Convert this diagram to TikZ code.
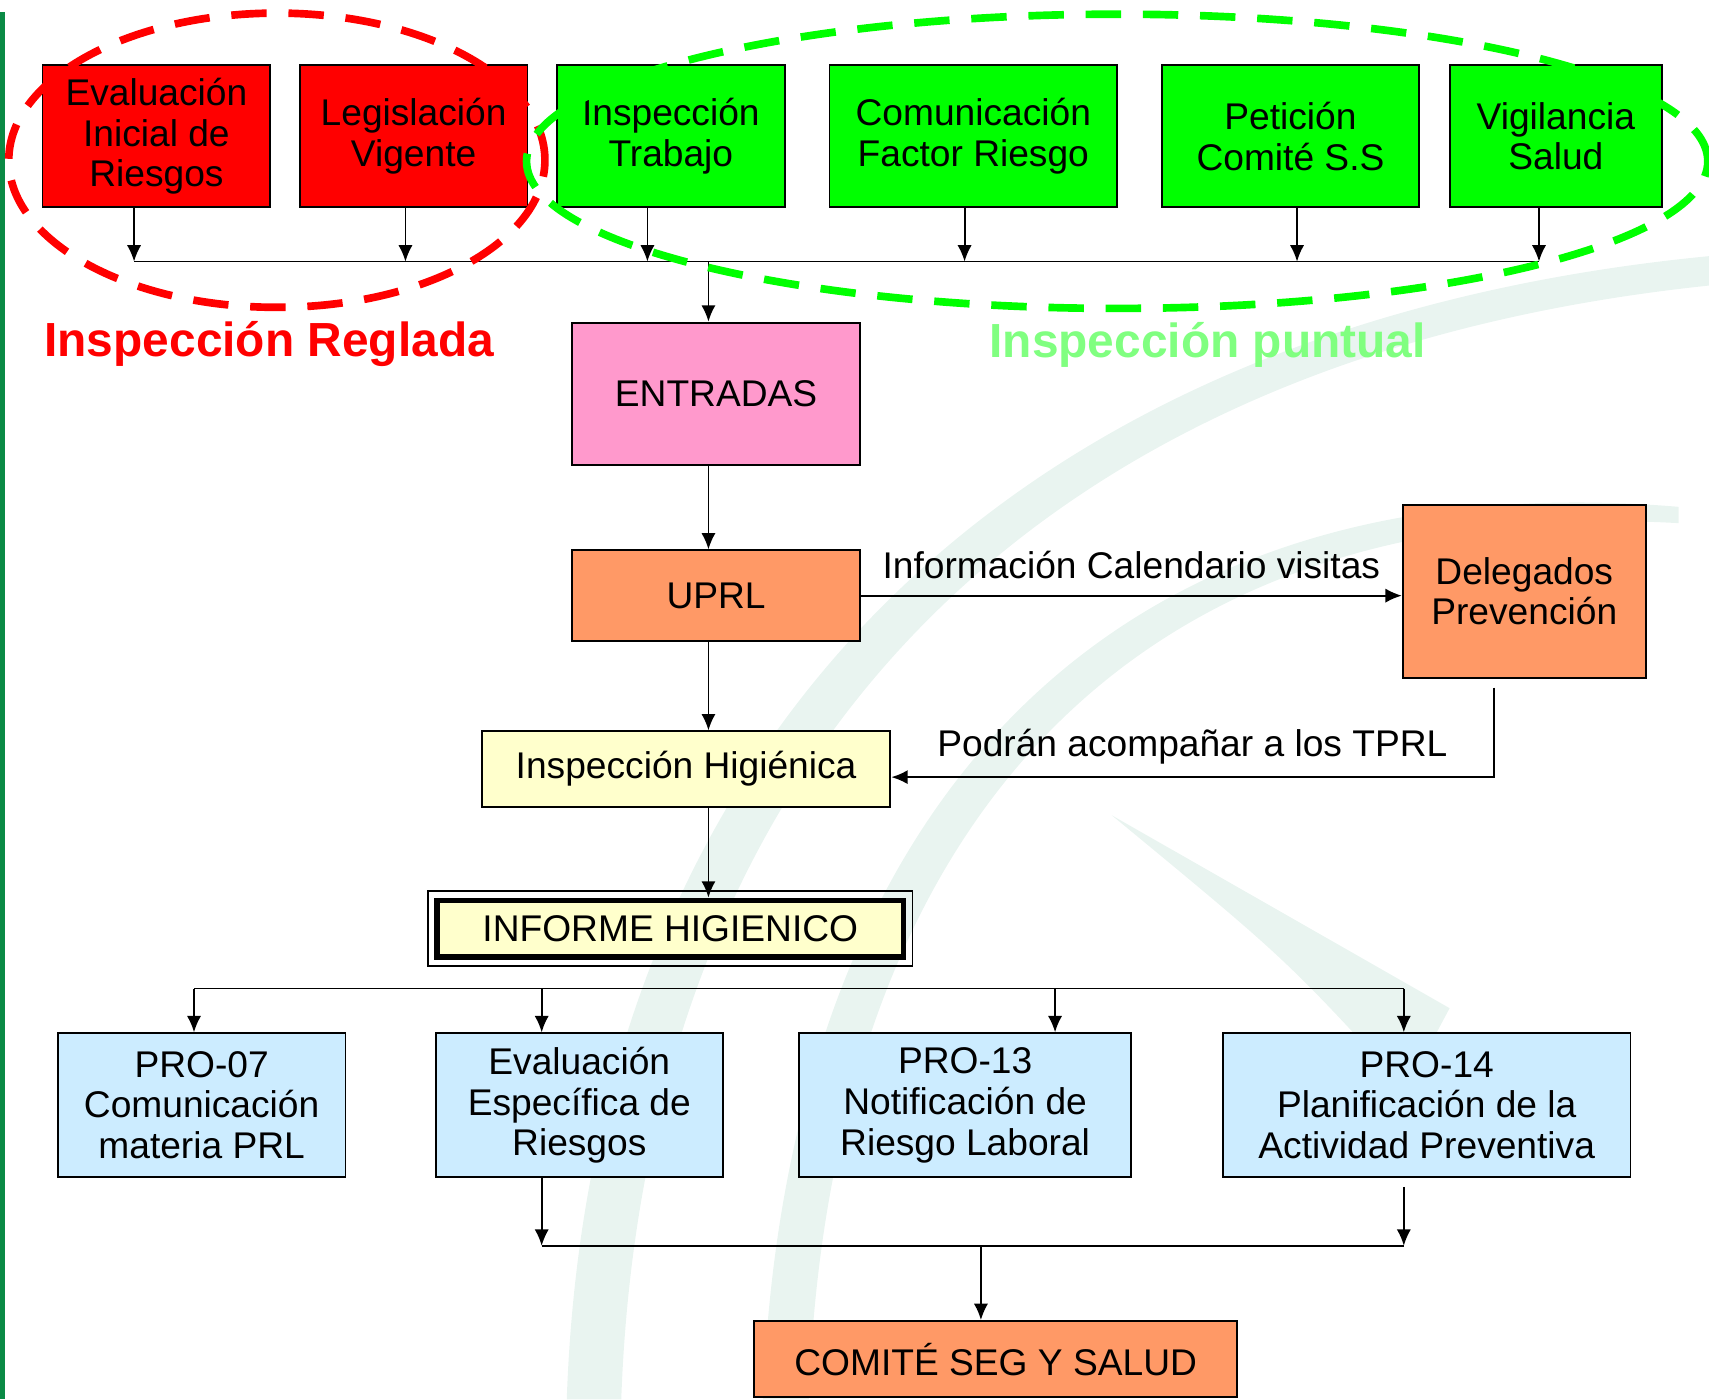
\documentclass[tikz,border=0pt]{standalone}
\usepackage{fontspec}
\setmainfont{Liberation Sans}
\usepackage{tikz}
\usetikzlibrary{positioning,calc,arrows.meta}

\definecolor{rojo}{HTML}{FF0000}
\definecolor{verde}{HTML}{00FF00}
\definecolor{rosa}{HTML}{FF99CC}
\definecolor{naranja}{HTML}{FF9966}
\definecolor{crema}{HTML}{FFFFCC}
\definecolor{celeste}{HTML}{CCECFF}
\definecolor{verdeclaro}{HTML}{80FF80}
\definecolor{barra}{HTML}{0A8A45}
\definecolor{marca}{RGB}{233,244,240}

\tikzset{
  caja/.style={draw=black, line width=1pt, inner sep=0pt, align=center,
    font=\fontsize{19.4}{21.3}\selectfont},
  etiqueta/.style={inner sep=0pt, font=\fontsize{19.4}{21.3}\selectfont},
  titulo/.style={inner sep=0pt, font=\fontsize{25}{28}\selectfont\bfseries},
  flecha/.style={line width=0.95pt, -{Latex[length=0.3cm,width=0.26cm]}},
  linea/.style={line width=0.95pt},
  ovalo/.style={line width=4pt, dash pattern=on 0.65cm off 0.4cm},
}

\begin{document}
\begin{tikzpicture}[x=0.02cm, y=-0.02cm]
    \useasboundingbox (0,0) rectangle (1568,1284);

    % fondo
    \fill[barra] (0,11) rectangle (5,1284);
    \fill[marca] (520,1284) .. controls (540,700) and (900,300) .. (1568,235)
        -- (1568,262) .. controls (920,330) and (590,720) .. (570,1284) -- cycle;
    \fill[marca] (700,1284) .. controls (720,760) and (1000,420) .. (1540,465)
        -- (1540,480) .. controls (1020,450) and (760,780) .. (742,1284) -- cycle;
    \fill[marca] (1020,748) -- (1330,925) -- (1290,1000) .. controls (1180,880) .. cycle;

    % entradas de arriba
    \node[caja, fill=rojo, minimum width=4.18cm, minimum height=2.6cm] (ev) at (143.5,125) {Evaluación\\Inicial de\\Riesgos};
    \node[caja, fill=rojo, minimum width=4.18cm, minimum height=2.6cm] (leg) at (379.5,125) {Legislación\\Vigente};
    \node[caja, fill=verde, minimum width=4.18cm, minimum height=2.6cm] (insp) at (615.5,125) {Inspección\\Trabajo};
    \node[caja, fill=verde, minimum width=5.28cm, minimum height=2.6cm] (com) at (893,125) {Comunicación\\Factor Riesgo};
    \node[caja, fill=verde, minimum width=4.72cm, minimum height=2.6cm] (pet) at (1184,125) {Petición\\Comité S.S};
    \node[caja, fill=verde, minimum width=3.9cm, minimum height=2.6cm] (vig) at (1427.5,125) {Vigilancia\\Salud};

    \node[titulo, text=rojo] (reglada) at (247,316) {Inspección Reglada};
    \node[titulo, text=verdeclaro] (puntual) at (1108,316) {Inspección puntual};

    % flujo central
    \node[caja, fill=rosa, minimum width=5.28cm, minimum height=2.62cm] (entradas) at (657,361.5) {ENTRADAS};
    \node[caja, fill=naranja, minimum width=5.28cm, minimum height=1.66cm] (uprl) at (657,546.5) {UPRL};
    \node[caja, fill=naranja, minimum width=4.46cm, minimum height=3.18cm] (deleg) at (1398.5,542.5) {Delegados\\Prevención};
    \node[caja, fill=crema, minimum width=7.5cm, minimum height=1.38cm] (higi) at (629.5,705.5) {Inspección Higiénica};
    \node[caja, fill=crema, line width=2.8pt, minimum width=8.56cm, minimum height=1.04cm] (informe) at (615,852) {INFORME HIGIENICO};
    \draw[line width=0.8pt] ([shift={(-6,6)}]informe.south west) rectangle ([shift={(6,-6)}]informe.north east);

    \node[etiqueta] (lblinfo) at (1038,518) {Información Calendario visitas};
    \node[etiqueta] (lblpodran) at (1094,685) {Podrán acompañar a los TPRL};

    % salidas
    \node[caja, fill=celeste, minimum width=5.28cm, minimum height=2.64cm] (pro07) at (185,1014) {PRO-07\\Comunicación\\materia PRL};
    \node[caja, fill=celeste, minimum width=5.26cm, minimum height=2.64cm] (espec) at (531.5,1014) {Evaluación\\Específica de\\Riesgos};
    \node[caja, fill=celeste, minimum width=6.1cm, minimum height=2.64cm] (pro13) at (885.5,1014) {PRO-13\\Notificación de\\Riesgo Laboral};
    \node[caja, fill=celeste, minimum width=7.48cm, minimum height=2.64cm] (pro14) at (1309,1014) {PRO-14\\Planificación de la\\Actividad Preventiva};
    \node[caja, fill=naranja, minimum width=8.86cm, minimum height=1.4cm] (comite) at (913.5,1247) {COMITÉ SEG Y SALUD};

    \coordinate (bus1) at (0,240);
    \coordinate (bus2) at (0,907);
    \coordinate (bus3) at (0,1143);

    % conectores
    \foreach \n/\x in {ev/123, leg/372, insp/594, com/885, pet/1190, vig/1412}
      \draw[flecha] (\x,0 |- \n.south) -- (\x,0 |- bus1);
    \draw[linea] (123,0 |- bus1) -- (1412,0 |- bus1);
    \draw[flecha] (650,0 |- bus1) -- (650,0 |- entradas.north);
    \draw[flecha] (650,0 |- entradas.south) -- (650,0 |- uprl.north);
    \draw[flecha] (650,0 |- uprl.south) -- (650,0 |- higi.north);
    \draw[flecha] (650,0 |- higi.south) -- (650,0 |- informe.north);
    \draw[flecha] (uprl.east) -- (uprl.east -| deleg.west);
    \draw[flecha] ([yshift=-0.16cm]1371,0 |- deleg.south) |- ([yshift=-0.15cm]higi.east);

    \draw[linea] (178,0 |- bus2) -- (1288,0 |- bus2);
    \foreach \n/\x in {pro07/178, espec/497, pro13/968, pro14/1288}
      \draw[flecha] (\x,0 |- bus2) -- (\x,0 |- \n.north);

    \draw[flecha] (497,0 |- espec.south) -- (497,0 |- bus3);
    \draw[flecha] ([yshift=-0.16cm]1288,0 |- pro14.south) -- (1288,0 |- bus3);
    \draw[linea] (497,0 |- bus3) -- (1288,0 |- bus3);
    \draw[flecha] (900,0 |- bus3) -- (900,0 |- comite.north);

    % grupos
    \draw[ovalo, rojo] (254,147) ellipse [x radius=4.92cm, y radius=2.7cm];
    \draw[ovalo, verde] (1025,148) ellipse [x radius=10.84cm, y radius=2.7cm];
\end{tikzpicture}
\end{document}
